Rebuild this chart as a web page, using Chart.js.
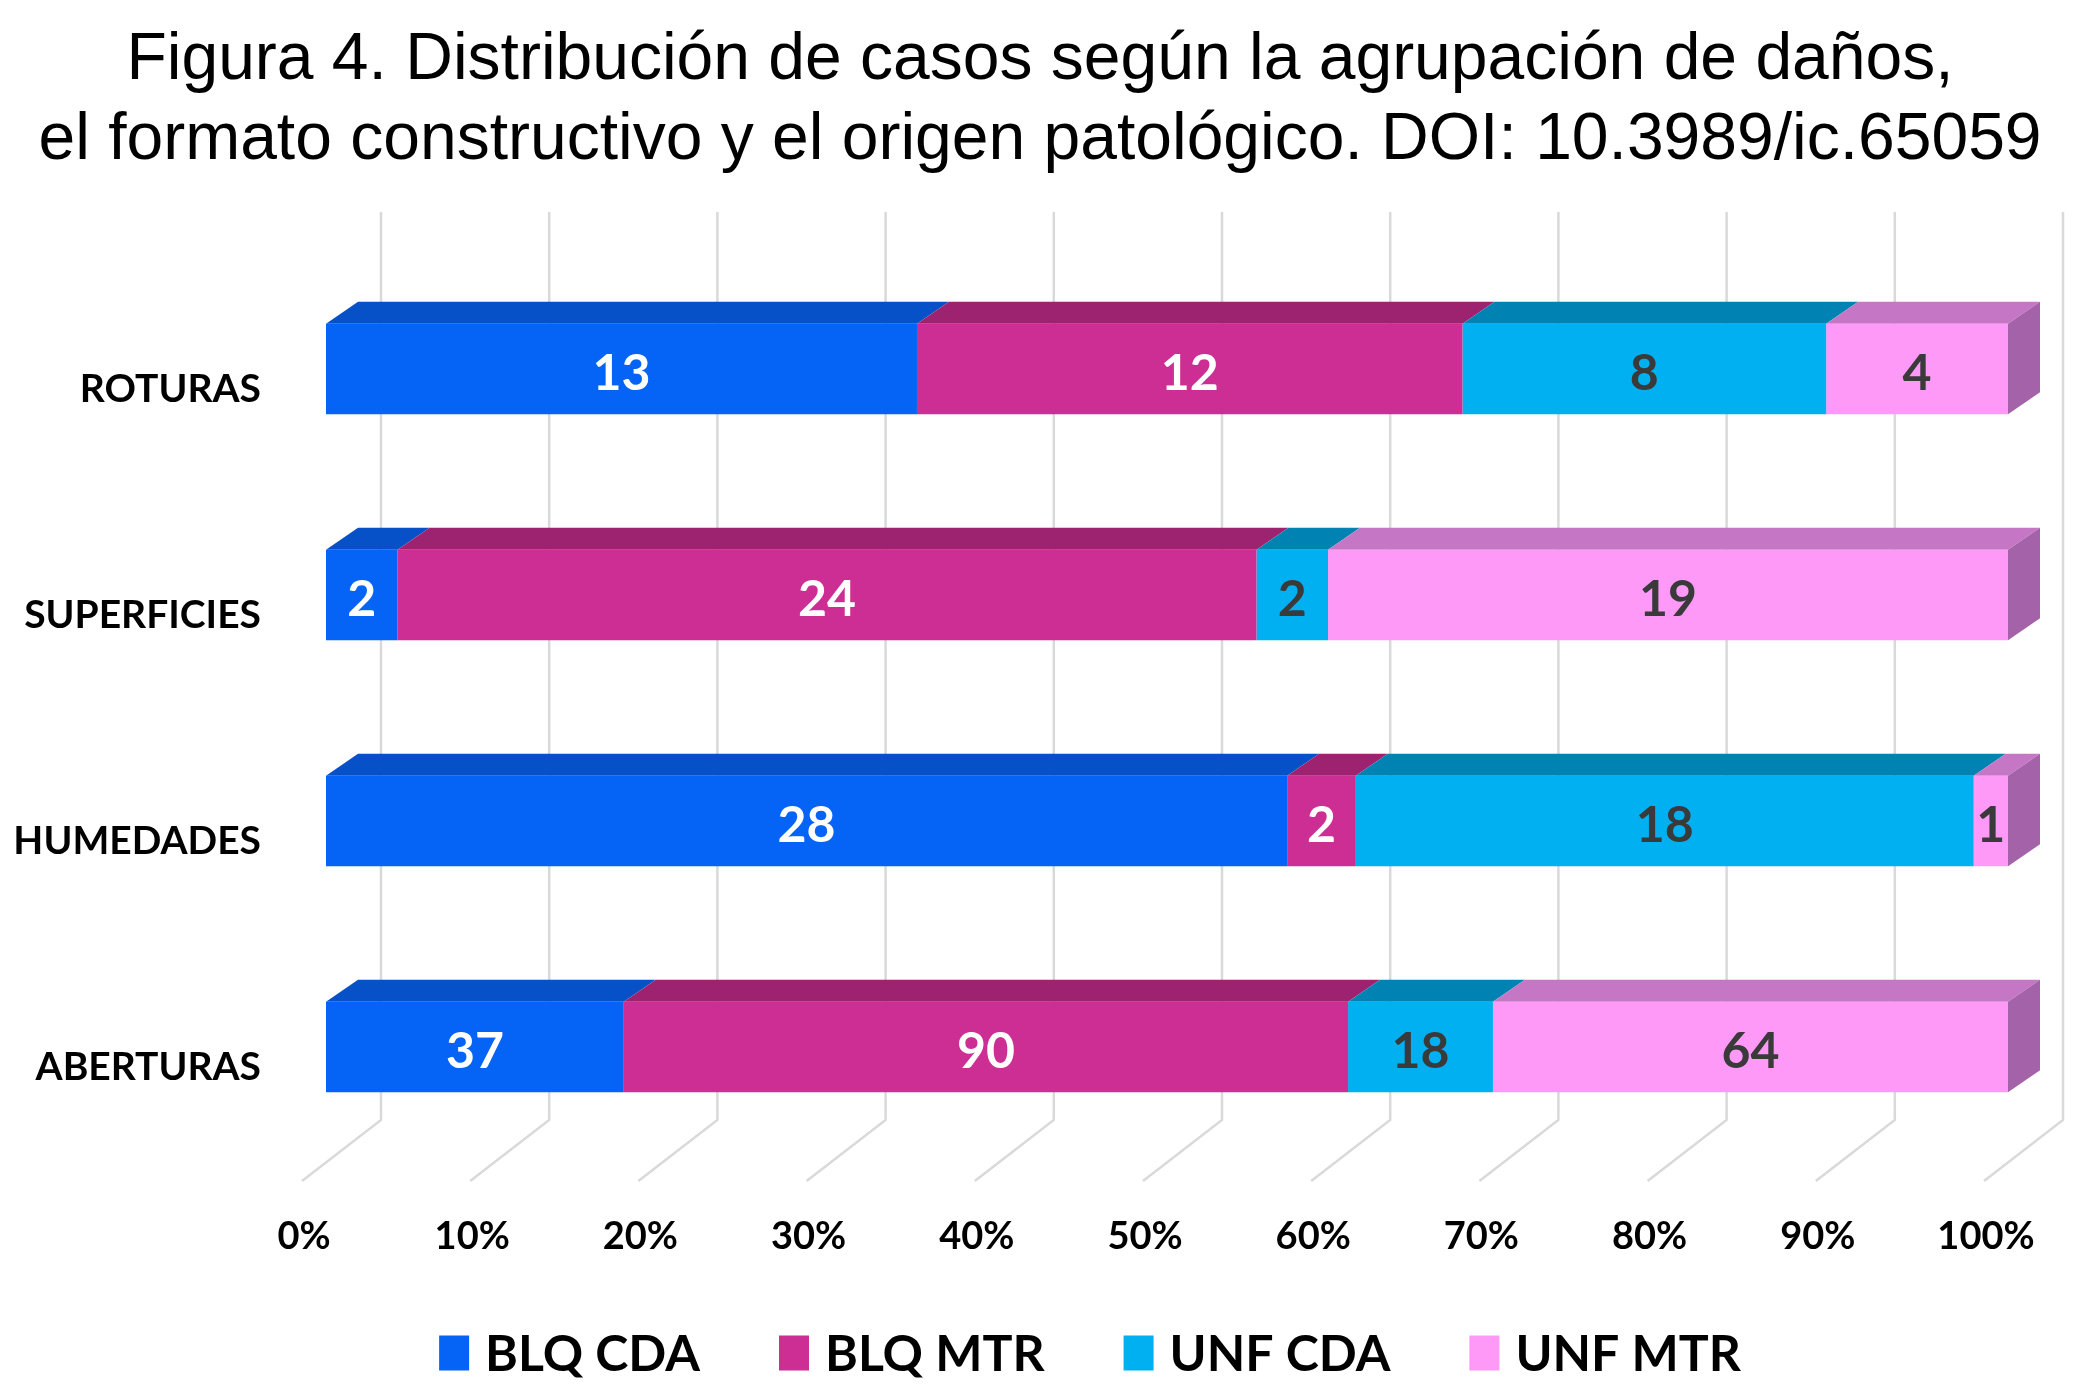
<!DOCTYPE html>
<html>
<head>
<meta charset="utf-8">
<script src="https://cdn.jsdelivr.net/npm/chart.js@4.4.1/dist/chart.umd.min.js"></script>
<style>
  html, body { margin: 0; padding: 0; background: #fff; }
  canvas { display: block; }
</style>
</head>
<body>
<canvas id="myChart" width="2080" height="1398"></canvas>
<script>
const categories = ["ROTURAS", "SUPERFICIES", "HUMEDADES", "ABERTURAS"];
const seriesNames = ["BLQ CDA", "BLQ MTR", "UNF CDA", "UNF MTR"];
const blqCda = [13, 2, 28, 37];
const blqMtr = [12, 24, 2, 90];
const unfCda = [8, 2, 18, 18];
const unfMtr = [4, 19, 1, 64];
const tickValues = [0, 10, 20, 30, 40, 50, 60, 70, 80, 90, 100];
const tickLabels = ["0%", "10%", "20%", "30%", "40%", "50%", "60%", "70%", "80%", "90%", "100%"];

const counts = [blqCda, blqMtr, unfCda, unfMtr];
const frontColors = ["#0564F5", "#CC2E93", "#00B0F0", "#FF99F8"];
const topColors = ["#0751C8", "#9D2370", "#0083B2", "#C576C4"];
const sideColors = ["#0444A8", "#7E1C5A", "#006C94", "#A463A8"];
const textColors = ["#ffffff", "#ffffff", "#3a3a3a", "#3a3a3a"];

const totals = categories.map((c, i) => counts.reduce((s, arr) => s + arr[i], 0));

// 3d offsets
const depth = { dx: 32, dy: 22 };
const gridShift = { dx: 55, floorDx: -79, floorDy: 61 };

const bars3d = {
  id: "bars3d",
  beforeDatasetsDraw: (chart) => {
    const ctx = chart.ctx;
    const area = chart.chartArea;
    const xs = chart.scales.x;
    ctx.save();
    // back gridlines + floor
    ctx.strokeStyle = "#d9d9d9";
    ctx.lineWidth = 2.5;
    tickValues.forEach((v) => {
      const xb = xs.getPixelForValue(v) + gridShift.dx;
      const floorY = area.bottom - 40;
      ctx.beginPath();
      ctx.moveTo(xb, area.top - 44);
      ctx.lineTo(xb, floorY);
      ctx.lineTo(xb + gridShift.floorDx, floorY + gridShift.floorDy);
      ctx.stroke();
    });
    // top + side faces
    const last = chart.data.datasets.length - 1;
    chart.data.datasets.forEach((ds, d) => {
      const meta = chart.getDatasetMeta(d);
      meta.data.forEach((bar) => {
        const p = bar.getProps(["x", "y", "base", "height"], true);
        const left = Math.min(p.x, p.base);
        const right = Math.max(p.x, p.base);
        const top = p.y - p.height / 2;
        const bottom = p.y + p.height / 2;
        ctx.fillStyle = topColors[d];
        ctx.beginPath();
        ctx.moveTo(left, top);
        ctx.lineTo(right, top);
        ctx.lineTo(right + depth.dx, top - depth.dy);
        ctx.lineTo(left + depth.dx, top - depth.dy);
        ctx.closePath();
        ctx.fill();
        if (d === last) {
          ctx.fillStyle = sideColors[d];
          ctx.beginPath();
          ctx.moveTo(right, top);
          ctx.lineTo(right + depth.dx, top - depth.dy);
          ctx.lineTo(right + depth.dx, bottom - depth.dy);
          ctx.lineTo(right, bottom);
          ctx.closePath();
          ctx.fill();
        }
      });
    });
    ctx.restore();
  },
  afterDatasetsDraw: (chart) => {
    const ctx = chart.ctx;
    ctx.save();
    ctx.font = "bold 50px Lato";
    ctx.textAlign = "center";
    ctx.textBaseline = "middle";
    chart.data.datasets.forEach((ds, d) => {
      const meta = chart.getDatasetMeta(d);
      meta.data.forEach((bar, i) => {
        const p = bar.getProps(["x", "y", "base"], true);
        ctx.fillStyle = textColors[d];
        ctx.fillText(String(counts[d][i]), (p.x + p.base) / 2, p.y + 5);
      });
    });
    ctx.restore();
  },
  afterDraw: (chart) => {
    // legend
    const ctx = chart.ctx;
    ctx.save();
    ctx.font = "bold 50px Lato";
    ctx.textBaseline = "middle";
    const boxW = 30, boxH = 35, gapText = 16, gapItem = 79;
    const widths = seriesNames.map((n) => ctx.measureText(n).width);
    const total = widths.reduce((s, w) => s + w, 0) + seriesNames.length * (boxW + gapText) + (seriesNames.length - 1) * gapItem;
    let x = 1090 - total / 2;
    const cy = 1353;
    seriesNames.forEach((n, k) => {
      ctx.fillStyle = frontColors[k];
      ctx.fillRect(x, cy - boxH / 2, boxW, boxH);
      ctx.fillStyle = "#000";
      ctx.fillText(n, x + boxW + gapText, cy + 2);
      x += boxW + gapText + widths[k] + gapItem;
    });
    ctx.restore();
  },
};

const data = {
  labels: categories,
  datasets: seriesNames.map((name, d) => ({
    label: name,
    data: counts[d].map((v, i) => (v / totals[i]) * 100),
    backgroundColor: frontColors[d],
    borderWidth: 0,
    barPercentage: 0.4,
    categoryPercentage: 1.0,
  })),
};

const config = {
  type: "bar",
  data: data,
  options: {
    indexAxis: "y",
    responsive: false,
    animation: false,
    devicePixelRatio: 1,
    layout: { padding: 0 },
    plugins: {
      legend: { display: false },
      tooltip: { enabled: false },
      title: {
        display: true,
        text: [
          "Figura 4. Distribución de casos según la agrupación de daños,",
          "el formato constructivo y el origen patológico. DOI: 10.3989/ic.65059",
        ],
        color: "#000",
        font: { family: "'Liberation Sans', Arial, sans-serif", size: 66, weight: "normal", lineHeight: 1.212 },
        padding: { top: 21, bottom: 75 },
      },
    },
    scales: {
      x: {
        stacked: true,
        min: 0,
        max: 100,
        grid: { display: false, drawTicks: false },
        border: { display: false },
        afterFit: (scale) => {
          scale.height = 238;
          scale.paddingLeft = 0;
          scale.paddingRight = 0;
        },
        afterBuildTicks: (scale) => {
          scale.ticks = tickValues.map((v) => ({ value: v }));
        },
        ticks: {
          callback: (v, idx) => tickLabels[idx],
          labelOffset: -22,
          padding: 54,
          color: "#000",
          font: { family: "Lato", size: 38, weight: "bold" },
          maxRotation: 0,
        },
      },
      y: {
        stacked: true,
        grid: { display: false, drawTicks: false },
        border: { display: false },
        afterFit: (scale) => {
          scale.width = 326;
          scale.paddingTop = 0;
          scale.paddingBottom = 0;
        },
        ticks: {
          labelOffset: 20,
          padding: 65,
          color: "#000",
          font: { family: "Lato", size: 39, weight: "bold" },
        },
      },
      // empty right axis, keeps room for the 3d side faces
      yRight: {
        type: "category",
        position: "right",
        grid: { display: false, drawTicks: false },
        border: { display: false },
        ticks: { display: false },
        afterFit: (scale) => {
          scale.width = 72;
          scale.paddingTop = 0;
          scale.paddingBottom = 0;
        },
      },
    },
  },
  plugins: [bars3d],
};

const ctx = document.getElementById("myChart").getContext("2d");
const myChart = new Chart(ctx, config);
</script>
</body>
</html>
